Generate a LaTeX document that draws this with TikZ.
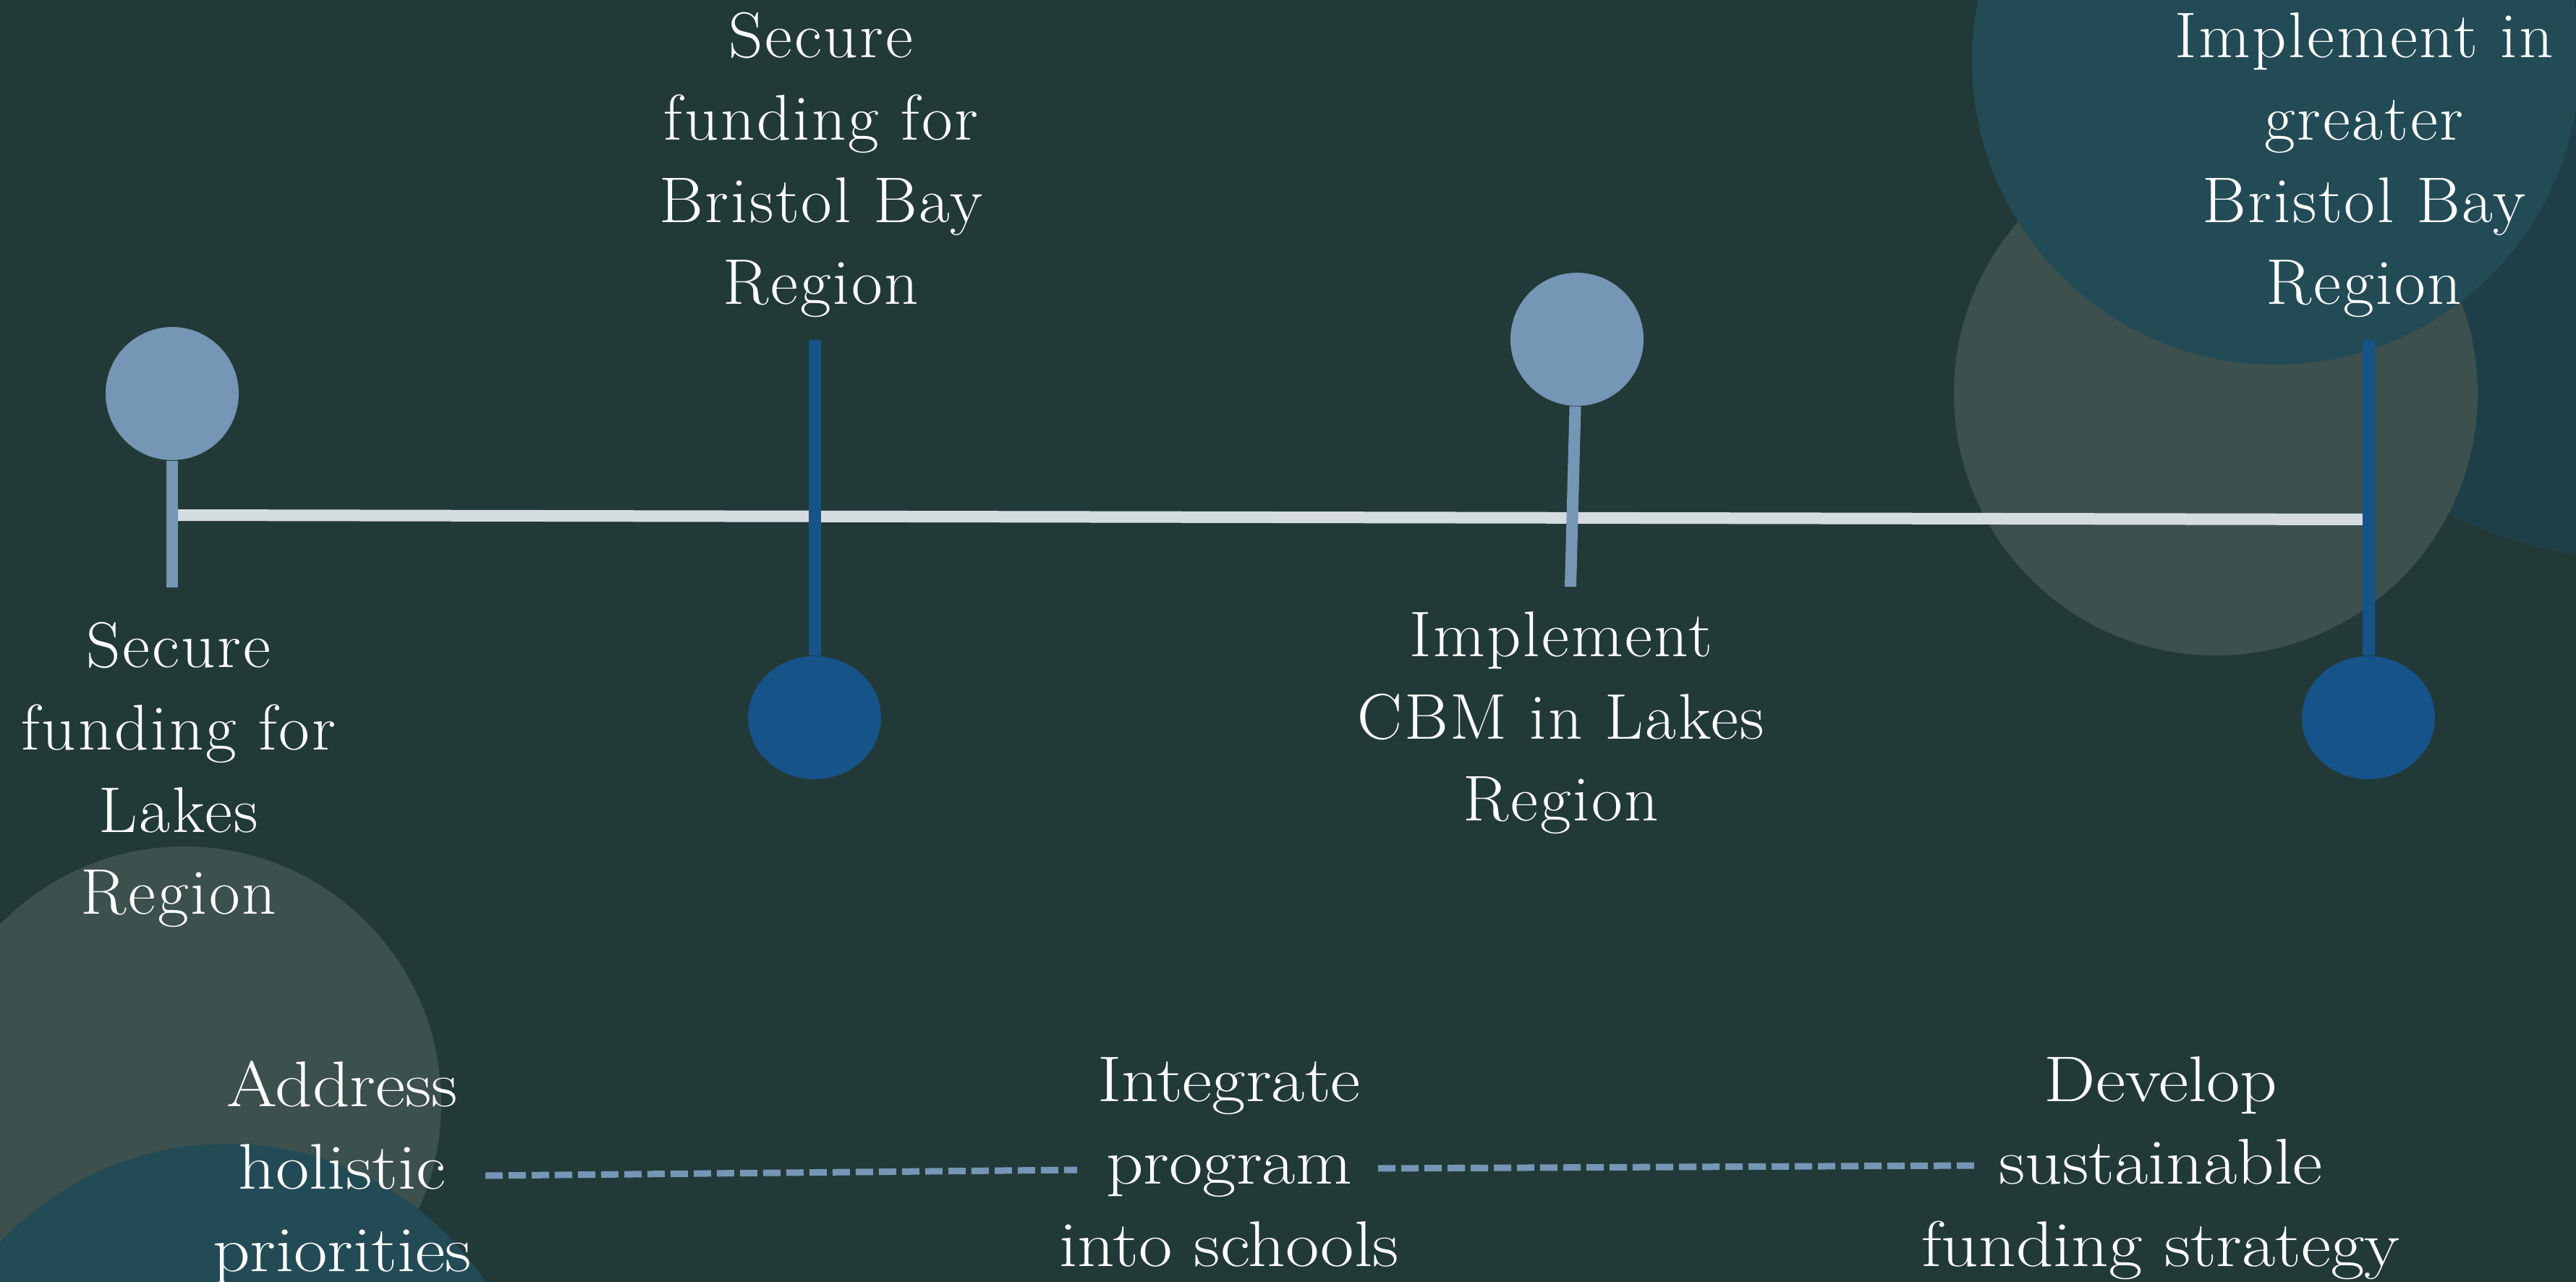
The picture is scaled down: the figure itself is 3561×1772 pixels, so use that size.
\documentclass[tikz,border=0pt]{standalone}
\usepackage{fontspec}
\usetikzlibrary{shapes.geometric}
\newfontfamily\railfont{lmroman17-regular.otf}[FakeStretch=1.04,LetterSpace=3]
\newfontfamily\planfont{lmroman17-regular.otf}[FakeStretch=1.13]
\definecolor{bgdark}{HTML}{223A37}
\definecolor{mossgrey}{HTML}{3C504E}
\definecolor{lakeblue}{HTML}{234B56}
\definecolor{deepteal}{HTML}{1F3F48}
\definecolor{pinlight}{HTML}{7596B5}
\definecolor{pindark}{HTML}{165389}
\definecolor{railgrey}{HTML}{D5DCE0}

\begin{document}
\begin{tikzpicture}[x=0.1mm,y=-0.1mm,
    lightpin/.style={circle,fill=pinlight,minimum size=18.4mm,inner sep=0pt},
    darkpin/.style={ellipse,fill=pindark,minimum width=18.4mm,minimum height=17mm,inner sep=0pt},
    lightstem/.style={draw=pinlight,line width=1.6mm},
    darkstem/.style={draw=pindark,line width=1.7mm},
    goal/.style={text=white,align=center,anchor=base,inner sep=0pt,
      font=\railfont\fontsize{25.4}{32.4}\selectfont},
    plan/.style={goal,font=\planfont\fontsize{25.4}{32.4}\selectfont},
    dashlink/.style={draw=pinlight,line width=0.9mm,dash pattern=on 2.4mm off 0.8mm}]
  \useasboundingbox (0,0) rectangle (3561,1772);
  \clip (0,0) rectangle (3561,1772);
  \fill[bgdark] (0,0) rectangle (3561,1772);
  % backdrop
  \fill[deepteal] (3650,180) circle (593);
  \fill[mossgrey] (3063,544) circle (362);
  \fill[lakeblue] (3146,84) circle (420);
  \fill[mossgrey] (255,1525) circle (355);
  \fill[lakeblue] (314,2011) circle (430);

  \coordinate (railL) at (240,712);
  \coordinate (railR) at (3269,718);
  \path (railL) edge[draw=railgrey,line width=1.6mm] (railR);

  \node[lightpin] (pinA) at (238,544) {};
  \coordinate (footA) at (238,812);
  \path (pinA) edge[lightstem] (footA);
  \node[darkpin] (pinB) at (1126,992) {};
  \coordinate (headB) at (1126,470);
  \path (headB) edge[darkstem] (pinB);
  \node[lightpin] (pinC) at (2180,469) {};
  \coordinate (footC) at (2171,811);
  \path (pinC) edge[lightstem] (footC);
  \node[darkpin] (pinD) at (3274,992) {};
  \coordinate (headD) at (3274,470);
  \path (headD) edge[darkstem] (pinD);

  \node[goal] (goalA) at (247,1264) {Secure\\funding for\\Lakes\\Region};
  \node[goal] (goalB) at (1135,421) {Secure\\funding for\\Bristol Bay\\Region};
  \node[goal] (goalC) at (2158,1135) {Implement\\CBM in Lakes\\Region};
  \node[goal] (goalD) at (3268,421) {Implement in\\greater\\Bristol Bay\\Region};

  \node[plan] (stepA) at (473,1757) {Address\\holistic\\priorities};
  \node[plan] (stepB) at (1699,1750) {Integrate\\program\\into schools};
  \node[plan] (stepC) at (2987,1750) {Develop\\sustainable\\funding strategy};
  \coordinate (linkA) at (671,1625);
  \coordinate (linkB) at (1489,1617);
  \coordinate (linkC) at (1905,1615);
  \coordinate (linkD) at (2730,1611);
  \path (linkA) edge[dashlink] (linkB);
  \path (linkC) edge[dashlink] (linkD);
\end{tikzpicture}
\end{document}
